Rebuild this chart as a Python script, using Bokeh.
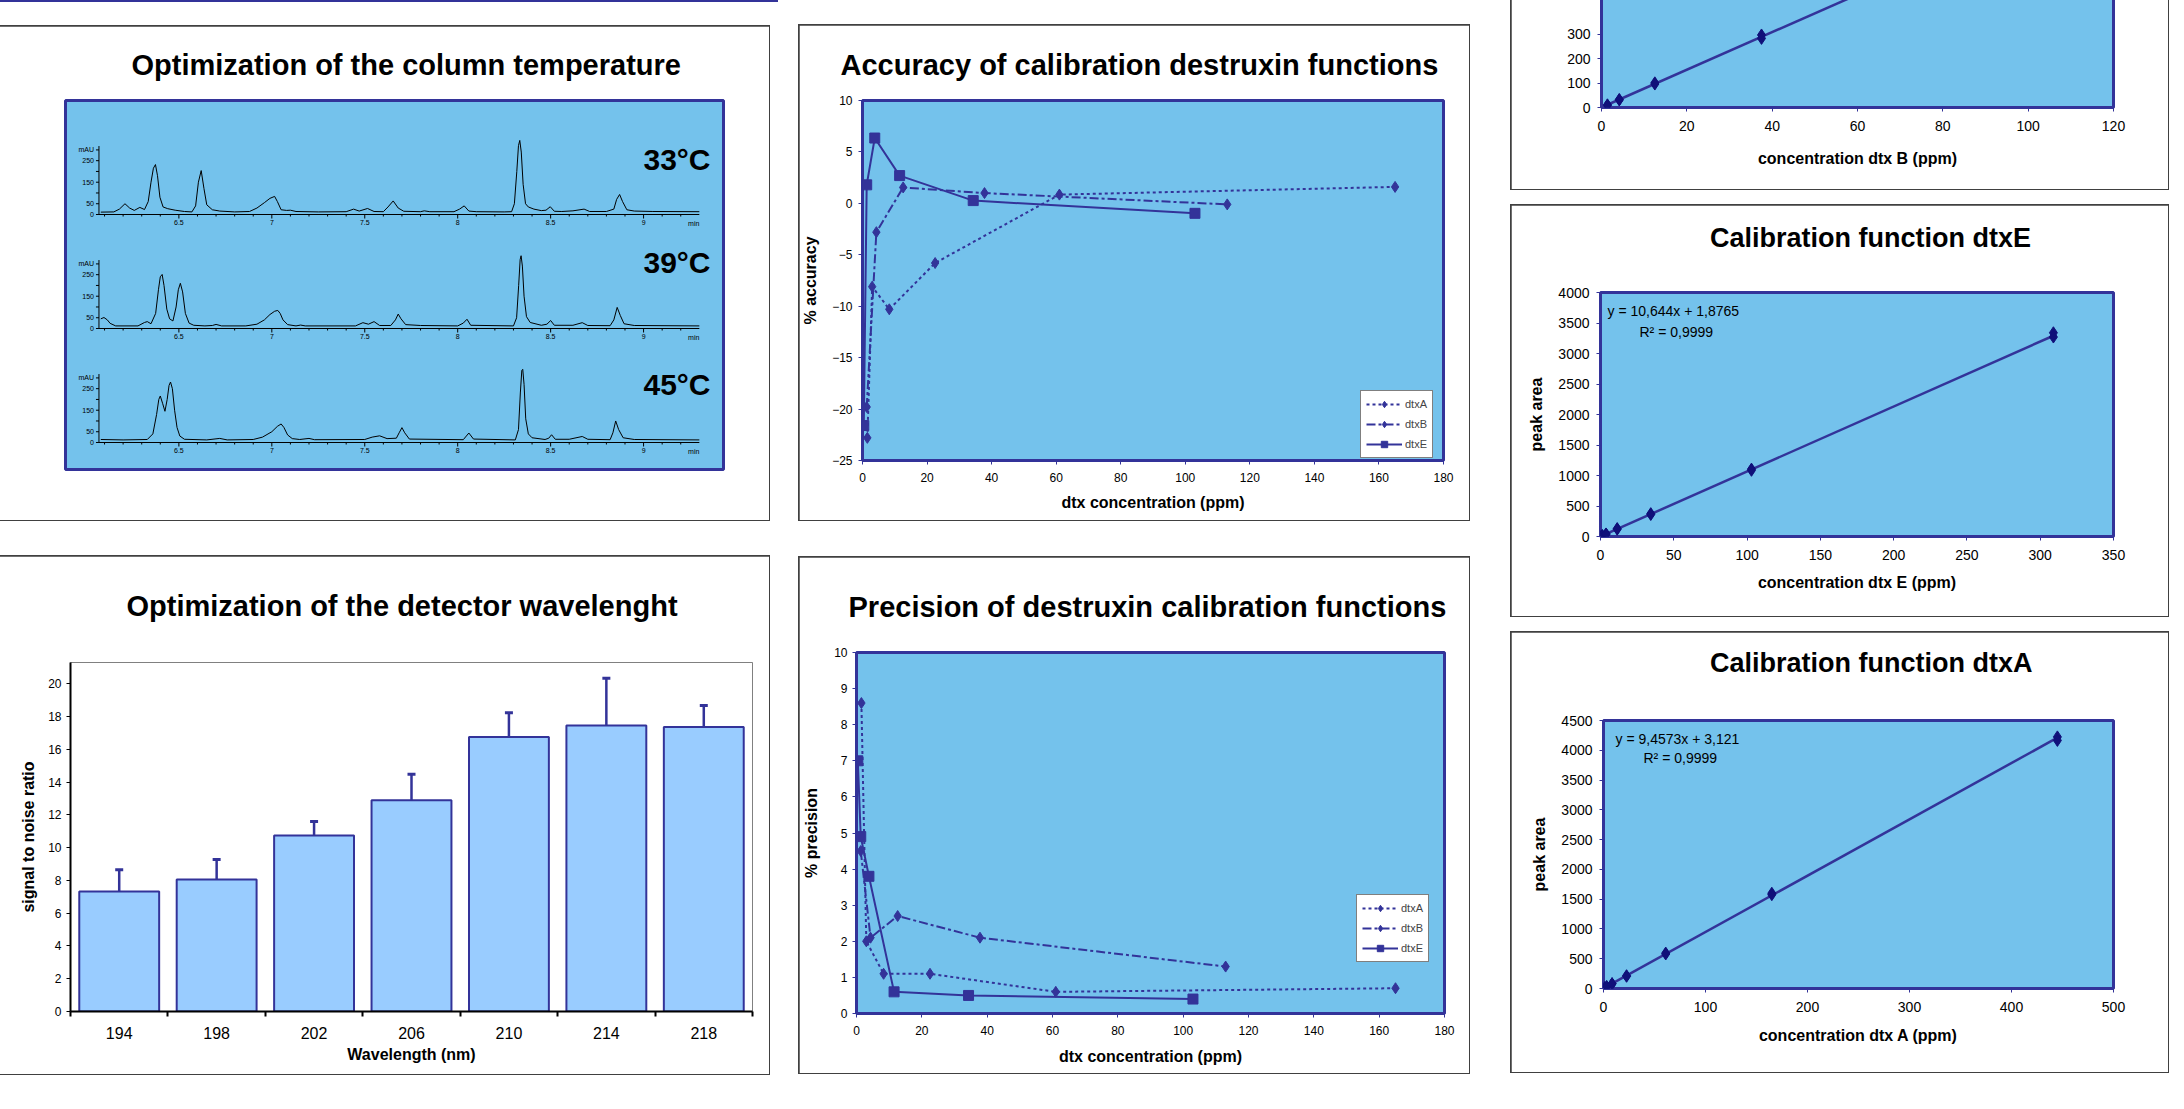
import numpy as np
from bokeh.plotting import figure
from bokeh.models import Range1d, FixedTicker, Title, Legend, LegendItem, Div
from bokeh.layouts import row, column
from bokeh.core.properties import value
from bokeh.embed import file_html
from bokeh.resources import INLINE

# ---------------- data ----------------
# chromatograms: retention time (min) and absorbance (mAU)
chrom_t_33 = [6.08, 6.15, 6.18, 6.21, 6.235, 6.26, 6.29, 6.315, 6.335, 6.35, 6.363, 6.374, 6.385, 6.398, 6.415,
              6.44, 6.48, 6.53, 6.57, 6.59, 6.605, 6.62, 6.635, 6.65, 6.68, 6.72, 6.80, 6.88, 6.92, 6.96,
              6.99, 7.015, 7.03, 7.05, 7.08, 7.10, 7.13, 7.25, 7.40, 7.44, 7.47, 7.515, 7.55, 7.60, 7.625,
              7.653, 7.68, 7.71, 7.80, 7.82, 7.85, 7.98, 8.01, 8.035, 8.06, 8.10, 8.25, 8.29, 8.305, 8.318,
              8.327, 8.334, 8.342, 8.352, 8.365, 8.38, 8.41, 8.45, 8.475, 8.498, 8.52, 8.56, 8.62, 8.68, 8.71,
              8.80, 8.84, 8.855, 8.871, 8.887, 8.91, 8.95, 9.05, 9.30]
chrom_a_33 = [11, 12, 25, 50, 30, 19, 33, 23, 60, 150, 215, 232, 180, 80, 35,
              27, 20, 14, 12, 40, 150, 204, 120, 45, 22, 16, 12, 14, 30, 55,
              75, 84, 60, 22, 19, 20, 14, 12, 13, 25, 16, 28, 14, 13, 35,
              63, 30, 15, 13, 17, 13, 13, 25, 40, 16, 13, 12, 13, 50, 200,
              320, 344, 290, 140, 50, 35, 25, 18, 20, 36, 15, 14, 17, 25, 14,
              14, 25, 70, 93, 60, 22, 16, 14, 13]
chrom_t_39 = [6.08, 6.097, 6.115, 6.13, 6.16, 6.28, 6.315, 6.33, 6.35, 6.375, 6.39, 6.40, 6.41, 6.42, 6.435,
              6.45, 6.468, 6.485, 6.497, 6.508, 6.52, 6.535, 6.555, 6.58, 6.64, 6.68, 6.70, 6.73, 6.86, 6.92,
              6.96, 6.99, 7.015, 7.032, 7.045, 7.06, 7.085, 7.13, 7.155, 7.18, 7.45, 7.49, 7.52, 7.55, 7.58,
              7.64, 7.665, 7.68, 7.695, 7.72, 7.80, 8.00, 8.03, 8.05, 8.07, 8.30, 8.317, 8.328, 8.336, 8.341,
              8.348, 8.357, 8.37, 8.39, 8.45, 8.48, 8.50, 8.52, 8.62, 8.67, 8.70, 8.82, 8.84, 8.858, 8.875,
              8.895, 8.95, 9.30]
chrom_a_39 = [45, 51, 40, 24, 12, 12, 28, 32, 22, 70, 180, 240, 251, 200, 90,
              45, 35, 100, 180, 210, 170, 70, 25, 15, 12, 14, 19, 12, 12, 20,
              40, 65, 80, 84, 70, 40, 18, 12, 16, 12, 12, 27, 20, 32, 14,
              14, 40, 67, 45, 18, 14, 12, 25, 43, 15, 12, 50, 200, 320, 338,
              290, 150, 55, 28, 15, 20, 37, 15, 15, 27, 14, 13, 40, 98, 60,
              22, 14, 12]
chrom_t_45 = [6.08, 6.20, 6.33, 6.36, 6.38, 6.392, 6.40, 6.413, 6.425, 6.437, 6.447, 6.455, 6.465, 6.477, 6.49,
              6.505, 6.53, 6.65, 6.72, 6.76, 6.90, 6.95, 7.00, 7.03, 7.05, 7.065, 7.085, 7.11, 7.15, 7.20,
              7.23, 7.50, 7.54, 7.58, 7.62, 7.67, 7.685, 7.70, 7.715, 7.74, 8.03, 8.06, 8.085, 8.31, 8.327,
              8.337, 8.345, 8.35, 8.357, 8.366, 8.38, 8.40, 8.47, 8.49, 8.505, 8.525, 8.60, 8.67, 8.70, 8.82,
              8.835, 8.85, 8.866, 8.89, 8.95, 9.30]
chrom_a_45 = [14, 12, 14, 40, 130, 200, 216, 180, 145, 200, 265, 281, 250, 150, 70,
              30, 15, 12, 19, 12, 14, 25, 50, 75, 86, 70, 35, 18, 14, 19,
              13, 14, 25, 31, 18, 20, 45, 69, 45, 16, 13, 44, 16, 12, 60,
              230, 335, 340, 270, 110, 40, 22, 14, 20, 36, 15, 15, 28, 15, 13,
              45, 100, 60, 22, 14, 12]
chrom_labels = ["33°C", "39°C", "45°C"]
chrom_x_ticks = [6.5, 7, 7.5, 8, 8.5, 9]
chrom_x_tick_labels = ["6.5", "7", "7.5", "8", "8.5", "9"]
chrom_y_ticks = [0, 50, 100, 150, 200, 250, 300]
chrom_y_label_values = [0, 50, 150, 250, 300]
chrom_y_tick_labels = ["0", "50", "150", "250", "mAU"]

# detector wavelength optimisation
wavelengths = ["194", "198", "202", "206", "210", "214", "218"]
snr_mean = [7.33, 8.06, 10.74, 12.9, 16.76, 17.45, 17.37]
snr_upper = [8.65, 9.28, 11.6, 14.48, 18.23, 20.34, 18.67]

# accuracy / precision of the calibration functions
conc_A = [1.5, 3.0, 8.3, 22.5, 61.0, 165.0]
conc_B = [1.3, 4.3, 12.6, 37.8, 113.0]
conc_E = [0.4, 1.3, 3.8, 11.5, 34.3, 103.0]
acc_A = [-22.8, -8.1, -10.3, -5.8, 0.85, 1.6]
acc_B = [-19.8, -2.8, 1.55, 1.0, -0.1]
acc_E = [-21.6, 1.8, 6.35, 2.7, 0.27, -0.97]
prec_A = [8.6, 2.0, 1.1, 1.1, 0.6, 0.7]
prec_B = [4.5, 2.1, 2.7, 2.1, 1.3]
prec_E = [7.0, 4.9, 3.8, 0.6, 0.5, 0.4]
series_names = ["dtxA", "dtxB", "dtxE"]

# calibration functions (replicate injections)
cal_B_conc = [1.39, 1.39, 4.17, 4.17, 12.5, 12.5, 37.5, 37.5, 112.5, 112.5]
cal_B_area = [11, 9, 33, 31, 101, 96, 297, 283, 872, 860]
cal_E_conc = [0.42, 0.42, 1.27, 1.27, 3.8, 3.8, 11.4, 11.4, 34.3, 34.3, 103, 103, 309, 309]
cal_E_area = [5, 4, 15, 13, 42, 40, 130, 120, 375, 360, 1105, 1085, 3340, 3270]
cal_A_conc = [1.15, 1.15, 3.1, 3.1, 8.4, 8.4, 22.6, 22.6, 61, 61, 165, 165, 445, 445]
cal_A_area = [13, 12, 32, 30, 82, 78, 215, 205, 595, 580, 1600, 1575, 4225, 4165]
eq_E = (10.644, 1.8765)
eq_A = (9.4573, 3.121)
eq_E_text = ["y = 10,644x + 1,8765", "R² = 0,9999"]
eq_A_text = ["y = 9,4573x + 3,121", "R² = 0,9999"]

# ---------------- style ----------------
FONT = "Liberation Sans"
BLUE = "#74C2EC"
NAVY = "#333399"
DARK = "#10107A"
PANEL_EDGE = "#404040"


def base_fig(w, h, xr, yr, left, right, top, bottom, **kw):
    p = figure(width=w, height=h, x_range=xr, y_range=yr, output_backend="svg",
               toolbar_location=None, min_border_left=left, min_border_right=right,
               min_border_top=top, min_border_bottom=bottom, **kw)
    p.grid.visible = False
    p.border_fill_color = "white"
    p.background_fill_color = BLUE
    p.outline_line_color = NAVY
    p.outline_line_width = 3
    return p


def add_title(p, text, size, offset, gap):
    # blank spacer (white on white) between the frame and the title, then the title
    p.add_layout(Title(text=" ", text_font_size="2px", standoff=gap, text_color="white"), "above")
    p.add_layout(Title(text=text, align="left", offset=offset, standoff=0,
                       text_font=FONT, text_font_style="bold", text_font_size=size,
                       text_color="black"), "above")


def style_axis(ax, tick_size, label_standoff, title_standoff, tick_color=NAVY):
    ax.axis_line_color = None
    ax.major_tick_out = 4
    ax.major_tick_in = 0
    ax.minor_tick_line_color = None
    ax.major_tick_line_color = tick_color
    ax.major_tick_line_width = 1
    ax.major_label_text_font = FONT
    ax.major_label_text_font_size = tick_size
    ax.major_label_text_color = "black"
    ax.major_label_standoff = label_standoff
    ax.axis_label_text_font = FONT
    ax.axis_label_text_font_style = "bold"
    ax.axis_label_text_font_size = "16px"
    ax.axis_label_text_color = "black"
    ax.axis_label_standoff = title_standoff


def boxed(p, margin):
    p.margin = (1, 1, 1, 1)
    return column(p, spacing=0, margin=margin, styles={"background-color": PANEL_EDGE})


# ---------------- panel 1: chromatograms ----------------
T_LEFT, T_RIGHT = 5.89, 9.43
AX_T0, AX_T1 = 6.07, 9.30
p1 = base_fig(771, 494, Range1d(T_LEFT, T_RIGHT), Range1d(0, 1), 67, 46, 74, 51,
              x_axis_type=None, y_axis_type=None)
add_title(p1, "Optimization of the column temperature", "29px", 66, 15.7)

FRAME_TOP, FRAME_BOT = 100, 469       # page pixels of the blue box
ZERO_PX = [214, 328, 442]              # page pixel of 0 mAU for each trace
PX_PER_MAU = 0.2153
LABEL_Y = [255, 306, 268]
traces = [(chrom_t_33, chrom_a_33), (chrom_t_39, chrom_a_39), (chrom_t_45, chrom_a_45)]
extra = {}
for k, z in enumerate(ZERO_PX):
    extra["c%d" % k] = Range1d((z - FRAME_BOT) / PX_PER_MAU, (z - FRAME_TOP) / PX_PER_MAU)
p1.extra_y_ranges = extra

minor_t = [round(v, 2) for v in np.arange(6.1, 9.25, 0.1) if round(v, 2) not in chrom_x_ticks]
txt = dict(text_font=value(FONT), text_color="black")
for k, (tt, aa) in enumerate(traces):
    rn = "c%d" % k
    p1.line(tt, aa, y_range_name=rn, line_color="black", line_width=1)
    p1.segment(x0=[AX_T0], y0=[0], x1=[AX_T1], y1=[0], y_range_name=rn, line_color="black", line_width=1)
    p1.segment(x0=[AX_T0], y0=[0], x1=[AX_T0], y1=[318], y_range_name=rn, line_color="black", line_width=1)
    p1.ray(x=[AX_T0] * len(chrom_y_ticks), y=chrom_y_ticks, length=3, length_units="screen",
           angle=np.pi, y_range_name=rn, line_color="black", line_width=1)
    p1.ray(x=chrom_x_ticks, y=[0] * len(chrom_x_ticks), length=4, length_units="screen",
           angle=-np.pi / 2, y_range_name=rn, line_color="black", line_width=1)
    p1.ray(x=minor_t, y=[0] * len(minor_t), length=2, length_units="screen",
           angle=-np.pi / 2, y_range_name=rn, line_color="black", line_width=1)
    p1.text(x=[AX_T0] * len(chrom_y_label_values), y=chrom_y_label_values, text=chrom_y_tick_labels,
            y_range_name=rn, x_offset=-5, text_align="right", text_baseline="middle",
            text_font_size="7px", **txt)
    p1.text(x=chrom_x_ticks + [9.27], y=[0] * (len(chrom_x_ticks) + 1),
            text=chrom_x_tick_labels + ["min"], y_range_name=rn, y_offset=5,
            text_align="center", text_baseline="top", text_font_size="7px", **txt)
    p1.text(x=[T_RIGHT], y=[LABEL_Y[k]], text=[chrom_labels[k]], y_range_name=rn, x_offset=-13,
            text_align="right", text_baseline="middle", text_font_size="30px",
            text_font_style="bold", **txt)

# ---------------- panel 2: wavelength bars ----------------
idx = list(range(1, len(wavelengths) + 1))
p2 = base_fig(771, 518, Range1d(0.5, len(wavelengths) + 0.5), Range1d(0, 21.3), 72, 17, 106, 63)
p2.background_fill_color = "white"
p2.outline_line_color = "#808080"
p2.outline_line_width = 1
add_title(p2, "Optimization of the detector wavelenght", "29px", 56, 36.3)
p2.vbar(x=idx, top=snr_mean, bottom=0, width=0.82, fill_color="#99CCFF",
        line_color=NAVY, line_width=2)
p2.segment(x0=idx, y0=snr_mean, x1=idx, y1=snr_upper, line_color=NAVY, line_width=2.5)
p2.scatter(x=idx, y=snr_upper, marker="dash", size=8, line_color=NAVY, line_width=3)
p2.xaxis.axis_label = "Wavelength (nm)"
p2.yaxis.axis_label = "signal to noise ratio"
for ax in p2.xaxis:
    style_axis(ax, "16px", 10, 4, tick_color="black")
    ax.ticker = FixedTicker(ticks=idx, minor_ticks=[i + 0.5 for i in range(len(idx) + 1)])
    ax.major_label_overrides = {i: w for i, w in zip(idx, wavelengths)}
    ax.major_tick_out = 0
    ax.minor_tick_out = 5
    ax.minor_tick_in = 0
    ax.minor_tick_line_color = "black"
    ax.minor_tick_line_width = 2
    ax.axis_line_color = "black"
    ax.axis_line_width = 2
for ax in p2.yaxis:
    style_axis(ax, "12px", 5, 8, tick_color="black")
    ax.ticker = FixedTicker(ticks=list(range(0, 21, 2)))
    ax.axis_line_color = "black"
    ax.axis_line_width = 2


# ---------------- panels 3/4: accuracy & precision ----------------
def series_plot(p, ys):
    dashes = ["3 3", "9 3 3 3", "solid"]
    xs = [conc_A, conc_B, conc_E]
    markers = ["diamond", "diamond", "square"]
    sizes = [11, 11, 10]
    items = []
    for name, x, y, d, m, s in zip(series_names, xs, ys, dashes, markers, sizes):
        ln = p.line(x, y, line_color=NAVY, line_width=2, line_dash=d)
        sc = p.scatter(x, y, marker=m, size=s, fill_color=NAVY, line_color=NAVY)
        items.append(LegendItem(label=name, renderers=[ln, sc]))
    return items


def add_legend(p, items, loc):
    lg = Legend(items=items, location=loc, margin=0, padding=5, spacing=4,
                glyph_width=36, glyph_height=16, label_height=16, label_standoff=3,
                label_text_font=FONT, label_text_font_size="11px",
                border_line_color="black", border_line_width=1,
                background_fill_color="white", background_fill_alpha=1.0)
    p.add_layout(lg)


p3 = base_fig(670, 495, Range1d(0, 180), Range1d(-25, 10), 61, 26, 75, 60)
add_title(p3, "Accuracy of calibration destruxin functions", "29px", -22, 15.7)
it3 = series_plot(p3, [acc_A, acc_B, acc_E])
add_legend(p3, it3, (498, 2))
p3.xaxis.axis_label = "dtx concentration (ppm)"
p3.yaxis.axis_label = "% accuracy"
for ax in p3.xaxis:
    style_axis(ax, "12px", 8, 9)
    ax.ticker = FixedTicker(ticks=list(range(0, 181, 20)))
for ax in p3.yaxis:
    style_axis(ax, "12px", 6, 10)
    ax.ticker = FixedTicker(ticks=list(range(-25, 11, 5)))

p4 = base_fig(670, 516, Range1d(0, 180), Range1d(0, 10), 57, 25, 95, 60)
add_title(p4, "Precision of destruxin calibration functions", "29px", -8, 25.9)
it4 = series_plot(p4, [prec_A, prec_B, prec_E])
add_legend(p4, it4, (500, 51))
p4.xaxis.axis_label = "dtx concentration (ppm)"
p4.yaxis.axis_label = "% precision"
for ax in p4.xaxis:
    style_axis(ax, "12px", 8, 10)
    ax.ticker = FixedTicker(ticks=list(range(0, 181, 20)))
for ax in p4.yaxis:
    style_axis(ax, "12px", 5, 11)
    ax.ticker = FixedTicker(ticks=list(range(0, 11, 1)))


# ---------------- panels 5/6/7: calibration functions ----------------
def cal_plot(p, conc, area, slope, intercept):
    xs = [min(conc), max(conc)]
    p.line(xs, [slope * v + intercept for v in xs], line_color=NAVY, line_width=2.5)
    p.scatter(conc, area, marker="diamond", size=12, fill_color=DARK, line_color=DARK)


def eq_text(p, x0, y1, lines, dx, dy):
    p.text(x=[x0, x0], y=[y1, y1], text=lines, x_offset=[dx[0], dx[1]], y_offset=[dy[0], dy[1]],
           text_align="left", text_baseline="middle", text_font_size="14px", **txt)


# dtx B (top part cut off by the page edge)
p5 = base_fig(657, 198, Range1d(0, 120), Range1d(0, 475), 90, 55, 0, 82)
slope_b, icpt_b = np.polyfit(cal_B_conc, cal_B_area, 1)
cal_plot(p5, cal_B_conc, cal_B_area, slope_b, icpt_b)
p5.xaxis.axis_label = "concentration dtx B (ppm)"
for ax in p5.xaxis:
    style_axis(ax, "14px", 9, 16)
    ax.ticker = FixedTicker(ticks=list(range(0, 121, 20)))
for ax in p5.yaxis:
    style_axis(ax, "14px", 7, 10)
    ax.ticker = FixedTicker(ticks=[0, 100, 200, 300])

# dtx E
p6 = base_fig(657, 411, Range1d(0, 350), Range1d(0, 4000), 89, 55, 87, 80)
add_title(p6, "Calibration function dtxE", "27px", 109.5, 35.9)
cal_plot(p6, cal_E_conc, cal_E_area, *eq_E)
eq_text(p6, 0, 4000, eq_E_text, (7, 39), (18, 39))
p6.xaxis.axis_label = "concentration dtx E (ppm)"
p6.yaxis.axis_label = "peak area"
for ax in p6.xaxis:
    style_axis(ax, "14px", 9, 11)
    ax.ticker = FixedTicker(ticks=list(range(0, 351, 50)))
for ax in p6.yaxis:
    style_axis(ax, "14px", 7, 10)
    ax.ticker = FixedTicker(ticks=list(range(0, 4001, 500)))

# dtx A
p7 = base_fig(657, 440, Range1d(0, 500), Range1d(0, 4500), 92, 55, 88, 84)
add_title(p7, "Calibration function dtxA", "27px", 106.5, 38.3)
cal_plot(p7, cal_A_conc, cal_A_area, *eq_A)
eq_text(p7, 0, 4500, eq_A_text, (12, 40), (18, 37))
p7.xaxis.axis_label = "concentration dtx A (ppm)"
p7.yaxis.axis_label = "peak area"
for ax in p7.xaxis:
    style_axis(ax, "14px", 9, 12)
    ax.ticker = FixedTicker(ticks=list(range(0, 501, 100)))
for ax in p7.yaxis:
    style_axis(ax, "14px", 7, 10)
    ax.ticker = FixedTicker(ticks=list(range(0, 4501, 500)))

# ---------------- layout ----------------
top_line = Div(text="", width=778, height=2, styles={"background-color": NAVY}, margin=(0, 0, 0, 0))
col1 = column(top_line, boxed(p1, (23, 0, 0, -3)), boxed(p2, (34, 0, 0, -3)),
              spacing=0, margin=(0, 0, 0, 0))
col2 = column(boxed(p3, (24, 0, 0, 20)), boxed(p4, (35, 0, 0, 20)), spacing=0, margin=(0, 0, 0, 0))
col3 = column(boxed(p5, (-10, 0, 0, 40)), boxed(p6, (14, 0, 0, 40)), boxed(p7, (14, 0, 0, 40)),
              spacing=0, margin=(0, 0, 0, 0))
page = row(col1, col2, col3, spacing=0, margin=(0, 0, 0, 0))

open("out.html", "w").write(file_html(page, INLINE))
